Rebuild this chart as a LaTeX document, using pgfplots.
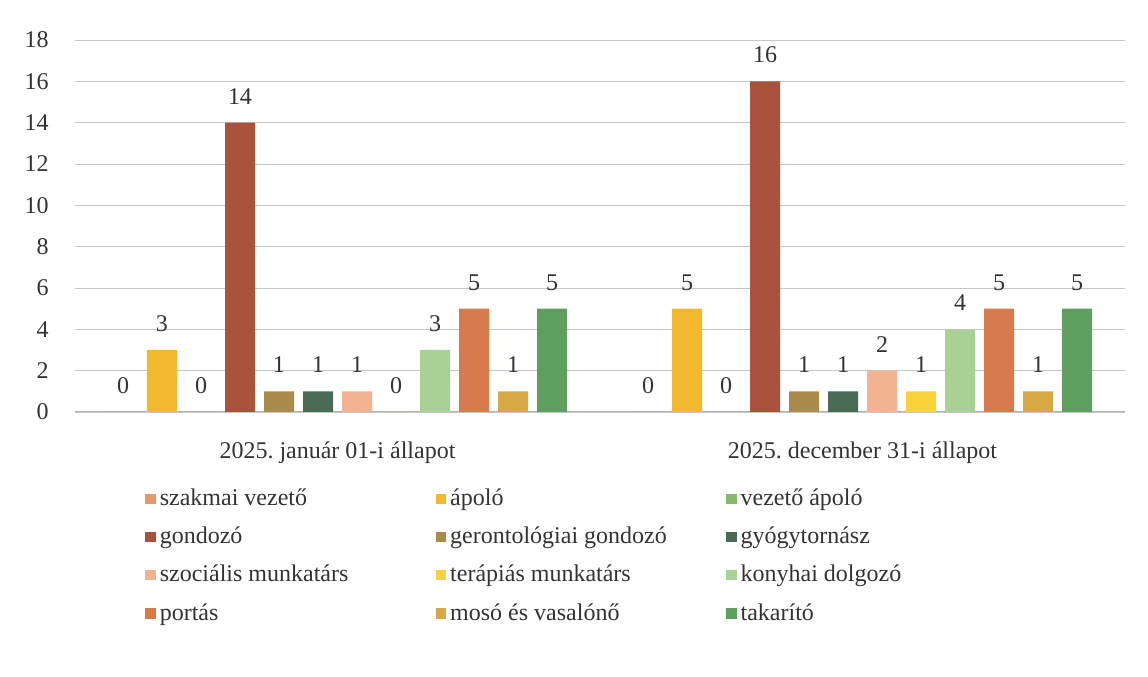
\documentclass[border=0pt]{standalone}
\usepackage{fontspec}
\setmainfont{Liberation Serif}
\usepackage{pgfplots}
\pgfplotsset{compat=1.18}

\definecolor{cSzak}{HTML}{E59A6E}
\definecolor{cApolo}{HTML}{F2B92F}
\definecolor{cVezAp}{HTML}{86B96C}
\definecolor{cGond}{HTML}{A9533D}
\definecolor{cGeront}{HTML}{A98C4C}
\definecolor{cGyogy}{HTML}{4A6B55}
\definecolor{cSzoc}{HTML}{F3B393}
\definecolor{cTerap}{HTML}{F8D23A}
\definecolor{cKony}{HTML}{A9D195}
\definecolor{cPort}{HTML}{D77B4C}
\definecolor{cMoso}{HTML}{D8A844}
\definecolor{cTakar}{HTML}{5E9E5E}

% fixed-width legend cells, like the equal columns of the original legend
\newcommand{\lent}[1]{\makebox[136pt][l]{#1}}

\begin{document}
\frenchspacing
\fontsize{12}{14}\selectfont
\begin{tikzpicture}
\begin{axis}[
  name=ax,
  scale only axis, width=525pt, height=186pt,
  ybar=4.5pt, bar width=15pt,
  xmin=-0.5, xmax=1.5, ymin=0, ymax=18,
  xtick={0,1}, xticklabels={2025. január 01-i állapot, 2025. december 31-i állapot},
  ytick={0,2,...,18},
  major tick length=0pt,
  axis x line*=bottom, axis y line*=left,
  x axis line style={gray!60, line width=0.5pt},
  y axis line style={draw=none},
  ymajorgrids, grid style={gray!45, line width=0.4pt},
  /pgf/number format/assume math mode=true,
  tick label style={font=\fontsize{12}{14}\selectfont, text=black!80},
  xticklabel style={yshift=-10.5pt},
  yticklabel style={xshift=-9pt},
  nodes near coords,
  nodes near coords style={font=\fontsize{12}{14}\selectfont, text=black!80, yshift=5pt},
  legend columns=3,
  legend cell align=left,
  legend style={draw=none, fill=none, inner sep=0pt, at={(0.0667,-0.194)}, anchor=north west,
    font=\fontsize{12}{14}\selectfont, text=black!80, row sep=5pt},
  legend image code/.code={\fill[#1] (0pt,-2.6pt) rectangle (5.2pt,2.6pt);},
  every axis plot/.append style={draw=none},
]
\addplot[fill=cSzak]   coordinates {(0,0) (1,0)};
\addlegendentry{\lent{szakmai vezető}}
\addplot[fill=cApolo]  coordinates {(0,3) (1,5)};
\addlegendentry{\lent{ápoló}}
\addplot[fill=cVezAp]  coordinates {(0,0) (1,0)};
\addlegendentry{\lent{vezető ápoló}}
\addplot[fill=cGond]   coordinates {(0,14) (1,16)};
\addlegendentry{\lent{gondozó}}
\addplot[fill=cGeront] coordinates {(0,1) (1,1)};
\addlegendentry{\lent{gerontológiai gondozó}}
\addplot[fill=cGyogy]  coordinates {(0,1) (1,1)};
\addlegendentry{\lent{gyógytornász}}
\addplot[fill=cSzoc]   coordinates {(0,1) (1,2)};
\addlegendentry{\lent{szociális munkatárs}}
\addplot[fill=cTerap]  coordinates {(0,0) (1,1)};
\addlegendentry{\lent{terápiás munkatárs}}
\addplot[fill=cKony]   coordinates {(0,3) (1,4)};
\addlegendentry{\lent{konyhai dolgozó}}
\addplot[fill=cPort]   coordinates {(0,5) (1,5)};
\addlegendentry{\lent{portás}}
\addplot[fill=cMoso]   coordinates {(0,1) (1,1)};
\addlegendentry{\lent{mosó és vasalónő}}
\addplot[fill=cTakar]  coordinates {(0,5) (1,5)};
\addlegendentry{\lent{takarító}}
\end{axis}
\path (ax.south west) ++(-37.5pt,-132.5pt) rectangle ([xshift=11.5pt,yshift=20pt]ax.north east);
\end{tikzpicture}
\end{document}
